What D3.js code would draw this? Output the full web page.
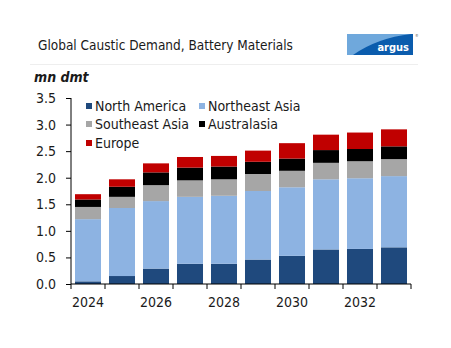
<!DOCTYPE html>
<html lang="en">
<head>
  <meta charset="UTF-8">
  <title>Global Caustic Demand</title>
  <script src="https://d3js.org/d3.v7.min.js"></script>
  <style>
    body { margin: 0; background: #fff; }
    text { font-family: "DejaVu Sans Condensed", "DejaVu Sans", sans-serif; fill: #1a1a1a; }
  </style>
</head>
<body>
  <svg></svg>
  <script>
    // data (mn dmt)
    const years = [2024, 2025, 2026, 2027, 2028, 2029, 2030, 2031, 2032, 2033];
    const tickYears = [2024, 2026, 2028, 2030, 2032];
    const regions = ["North America", "Northeast Asia", "Southeast Asia", "Australasia", "Europe"];
    const northAmerica  = [0.05, 0.15, 0.29, 0.38, 0.38, 0.46, 0.53, 0.65, 0.66, 0.69];
    const northeastAsia = [1.17, 1.28, 1.27, 1.26, 1.28, 1.29, 1.29, 1.32, 1.33, 1.34];
    const southeastAsia = [0.23, 0.21, 0.30, 0.31, 0.31, 0.32, 0.31, 0.31, 0.32, 0.32];
    const australasia   = [0.14, 0.19, 0.24, 0.24, 0.24, 0.23, 0.23, 0.24, 0.23, 0.24];
    const europe        = [0.10, 0.14, 0.17, 0.20, 0.20, 0.21, 0.29, 0.29, 0.31, 0.32];
    const colors = ["#1f497d", "#8db3e2", "#a6a6a6", "#000000", "#c00000"];

    const width = 451, height = 348;
    const margin = { top: 98, right: 40, bottom: 64, left: 71 };

    const svg = d3.select("svg")
      .attr("width", width)
      .attr("height", height);

    const rows = years.map((y, i) => ({
      year: y,
      "North America": northAmerica[i],
      "Northeast Asia": northeastAsia[i],
      "Southeast Asia": southeastAsia[i],
      "Australasia": australasia[i],
      "Europe": europe[i]
    }));
    const series = d3.stack().keys(regions)(rows);

    const x = d3.scaleBand()
      .domain(years)
      .range([margin.left, width - margin.right])
      .paddingInner(0.235)
      .paddingOuter(0.1175);

    const y = d3.scaleLinear()
      .domain([0, 3.5])
      .range([height - margin.bottom, margin.top]);

    const color = d3.scaleOrdinal().domain(regions).range(colors);

    // title + logo
    svg.append("text")
      .attr("x", 38).attr("y", 50)
      .style("font-size", "13.5px")
      .text("Global Caustic Demand, Battery Materials");

    svg.append("line")
      .attr("x1", 30).attr("x2", 418)
      .attr("y1", 64.5).attr("y2", 64.5)
      .attr("stroke", "#eeeeee");

    const logo = svg.append("g").attr("transform", "translate(347,34)");
    logo.append("rect").attr("width", 66).attr("height", 21).attr("fill", "#0b5cad");
    logo.append("path")
      .attr("d", "M0,0 H64 Q30,4 6,21 H0 Z")
      .attr("fill", "#6fa8dc");
    logo.append("text")
      .attr("x", 62).attr("y", 17)
      .attr("text-anchor", "end")
      .style("font-size", "11px")
      .style("font-weight", "bold")
      .style("fill", "#fff")
      .text("argus");
    logo.append("text")
      .attr("x", 68).attr("y", 3)
      .style("font-size", "4px")
      .style("fill", "#555")
      .text("®");

    svg.append("text")
      .attr("x", 34).attr("y", 82)
      .style("font-size", "14px")
      .style("font-weight", "bold")
      .style("font-style", "italic")
      .text("mn dmt");

    // bars
    svg.append("g")
      .selectAll("g")
      .data(series)
      .join("g")
      .attr("fill", d => color(d.key))
      .selectAll("rect")
      .data(d => d)
      .join("rect")
      .attr("x", d => x(d.data.year))
      .attr("width", x.bandwidth())
      .attr("y", d => y(d[1]))
      .attr("height", d => y(d[0]) - y(d[1]));

    // axes
    const yAxis = svg.append("g")
      .attr("transform", `translate(${margin.left},0)`)
      .call(d3.axisLeft(y).tickValues(d3.range(0, 3.51, 0.5)).tickFormat(d3.format(".1f")).tickSize(5).tickPadding(10));

    const step = x.step();
    const xAxis = svg.append("g")
      .attr("transform", `translate(0,${height - margin.bottom})`);
    xAxis.append("line")
      .attr("x1", margin.left).attr("x2", width - margin.right)
      .attr("stroke", "#000");
    xAxis.selectAll(".tk")
      .data(d3.range(years.length + 1))
      .join("line")
      .attr("x1", i => margin.left + i * step)
      .attr("x2", i => margin.left + i * step)
      .attr("y1", 0).attr("y2", 5)
      .attr("stroke", "#000");
    xAxis.selectAll(".lbl")
      .data(tickYears)
      .join("text")
      .attr("x", d => x(d) + x.bandwidth() / 2)
      .attr("y", 23)
      .attr("text-anchor", "middle")
      .style("font-size", "14px")
      .text(d => d);

    yAxis.selectAll("text").style("font-size", "14px").attr("fill", "#1a1a1a");
    yAxis.selectAll("path, line").attr("stroke", "#000");
    yAxis.select(".domain").attr("d", `M0,${y(3.5)}V${y(0)}`);

    // legend
    const legendPos = [[86, 106], [199, 106], [86, 124], [199, 124], [86, 143]];
    const legend = svg.append("g")
      .selectAll("g")
      .data(regions)
      .join("g")
      .attr("transform", (d, i) => `translate(${legendPos[i][0]},${legendPos[i][1]})`);
    legend.append("rect")
      .attr("x", 0).attr("y", -3)
      .attr("width", 6).attr("height", 6)
      .attr("fill", d => color(d));
    legend.append("text")
      .attr("x", 9).attr("y", 5)
      .style("font-size", "14px")
      .text(d => d);
  </script>
</body>
</html>
